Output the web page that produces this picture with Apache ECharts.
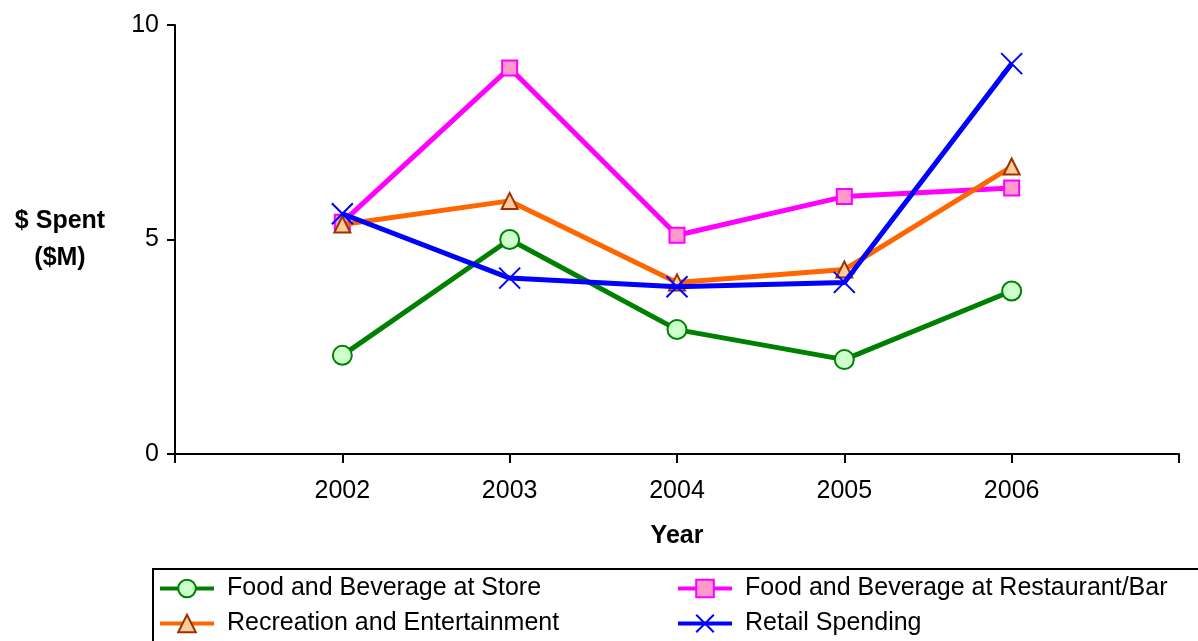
<!DOCTYPE html>
<html><head><meta charset="utf-8">
<script src="https://cdn.jsdelivr.net/npm/echarts@6/dist/echarts.min.js"></script>
<style>html,body{margin:0;padding:0;background:#fff}#c{width:1198px;height:641px}</style>
</head><body><div id="c"></div>
<script>
var years = [2002, 2003, 2004, 2005, 2006];
var foodStore = [2.3, 5.0, 2.9, 2.2, 3.8];
var foodRestaurant = [5.4, 9.0, 5.1, 6.0, 6.2];
var recreation = [5.35, 5.9, 4.0, 4.3, 6.7];
var retail = [5.6, 4.1, 3.9, 4.0, 9.1];
var yTicks = [0, 5, 10];
var seriesNames = ['Food and Beverage at Store', 'Food and Beverage at Restaurant/Bar', 'Recreation and Entertainment', 'Retail Spending'];

function pairs(v){ return years.map(function(y,i){ return [y, v[i]]; }); }
var FONT = '"Liberation Sans", Arial, sans-serif';
var FS = 25;
var chart = echarts.init(document.getElementById('c'), null, {renderer:'canvas'});
var crossPath = 'path://M0,0L10,10M10,0L0,10';
function leg(name, left, top){
  return {orient:'horizontal', left:left, top:top, itemWidth:54, itemHeight:22, padding:0,
    data:[name], lineStyle:{width:4},
    textStyle:{fontSize:FS, color:'#000', fontFamily:FONT, padding:[0,0,0,8]}};
}
chart.setOption({
  animation:false,
  backgroundColor:'#fff',
  textStyle:{fontFamily:FONT},
  grid:{left:175, top:25, width:1004, height:429},
  xAxis:{type:'value', min:years[0]-1, max:years[years.length-1]+1, interval:1,
    axisLine:{lineStyle:{color:'#000', width:2}},
    axisTick:{length:9, lineStyle:{color:'#000', width:2}},
    splitLine:{show:false},
    axisLabel:{fontSize:FS, color:'#000', fontFamily:FONT, margin:25,
      formatter:function(v){ return years.indexOf(v) >= 0 ? String(v) : ''; }},
    name:'Year', nameLocation:'middle', nameGap:70,
    nameTextStyle:{fontSize:FS, fontWeight:'bold', color:'#000', fontFamily:FONT}
  },
  yAxis:{type:'value', min:yTicks[0], max:yTicks[yTicks.length-1], interval:5,
    axisLine:{show:true, lineStyle:{color:'#000', width:2}},
    axisTick:{show:true, length:8, lineStyle:{color:'#000', width:2}},
    splitLine:{show:false},
    axisLabel:{fontSize:FS, color:'#000', fontFamily:FONT, margin:16},
    name:'$ Spent\n($M)', nameLocation:'middle', nameRotate:0, nameGap:115,
    nameTextStyle:{fontSize:FS, fontWeight:'bold', color:'#000', fontFamily:FONT, lineHeight:37, align:'center'}
  },
  legend:[
    leg(seriesNames[0], 158, 576),
    leg(seriesNames[1], 676, 576),
    leg(seriesNames[2], 158, 611),
    leg(seriesNames[3], 676, 611)
  ],
  graphic:[{type:'rect', shape:{x:153, y:569, width:1100, height:120}, style:{fill:'none', stroke:'#000', lineWidth:2}, z:-1}],
  series:[
    {name:seriesNames[0], type:'line', data:pairs(foodStore), symbol:'circle', symbolSize:19,
     lineStyle:{color:'#008000', width:5}, itemStyle:{color:'#ccffcc', borderColor:'#008000', borderWidth:2}, z:2},
    {name:seriesNames[1], type:'line', data:pairs(foodRestaurant), symbol:'rect', symbolSize:15,
     lineStyle:{color:'#ff00ff', width:5}, itemStyle:{color:'#ff99cc', borderColor:'#ff00ff', borderWidth:2}, z:3},
    {name:seriesNames[2], type:'line', data:pairs(recreation), symbol:'triangle', symbolSize:16,
     lineStyle:{color:'#ff6600', width:5}, itemStyle:{color:'#ffcc99', borderColor:'#993300', borderWidth:2}, z:4},
    {name:seriesNames[3], type:'line', data:pairs(retail), symbol:crossPath, symbolSize:21,
     lineStyle:{color:'#0000ff', width:5}, itemStyle:{color:'#0000ff', borderColor:'#0000ff', borderWidth:2}, z:5}
  ]
});
</script></body></html>
